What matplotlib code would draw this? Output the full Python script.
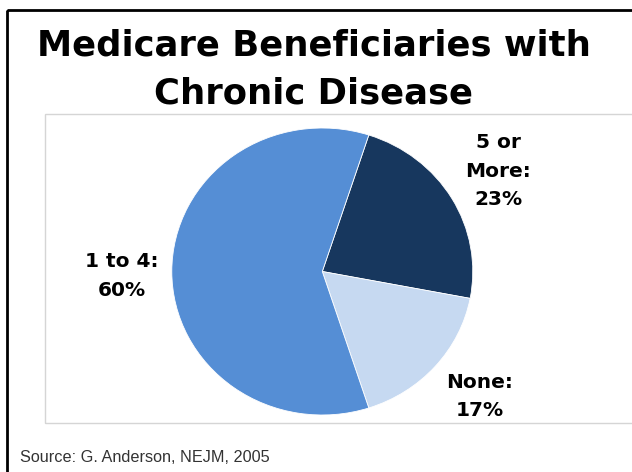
import matplotlib.pyplot as plt
from matplotlib.patches import Rectangle

# Dane z wykresu
labels = ['5 or\nMore:\n23%', 'None:\n17%', '1 to 4:\n60%']
values = [23, 17, 60]
colors = ['#17375E', '#C6D9F1', '#558ED5']
title_lines = ['Medicare Beneficiaries with', 'Chronic Disease']
source = 'Source: G. Anderson, NEJM, 2005'

W, H = 632, 472
fig = plt.figure(figsize=(W / 100, H / 100), dpi=100)


def px(x, y):
    # piksele (od góry) -> współrzędne figury
    return x / W, 1 - y / H


# Zewnętrzna ramka
fig.patches.append(Rectangle(px(7, 10), 1.2, -1.2, transform=fig.transFigure,
                             fill=False, edgecolor='black', linewidth=2))
# Ramka obszaru wykresu
fig.patches.append(Rectangle(px(45, 423), 1.2, (423 - 114) / H, transform=fig.transFigure,
                             fill=False, edgecolor='#D5D5D5', linewidth=1))

# Tytuł
for t, base in zip(title_lines, [55, 103]):
    fig.text(*px(314, base), t, ha='center', va='baseline',
             fontsize=25.5, fontweight='bold', family='DejaVu Sans')

# Wykres kołowy
cx, cy, rx, ry = 322.3, 271.5, 150.5, 143.5
l, b = px(cx - rx, cy + ry)
ax = fig.add_axes([l, b, 2 * rx / W, 2 * ry / H])
ax.pie(values, colors=colors, startangle=72, counterclock=False,
       wedgeprops=dict(edgecolor='white', linewidth=0.6))
ax.set_aspect('auto')
ax.set_xlim(-1, 1)
ax.set_ylim(-1, 1)
ax.axis('off')

label_pos = [(1.17, 0.70), (1.048, -0.87), (-1.334, -0.031)]
for (x, y), t in zip(label_pos, labels):
    ax.text(x, y, t, ha='center', va='center', fontsize=14.5, fontweight='bold',
            family='DejaVu Sans', linespacing=1.63, clip_on=False)

# Źródło
fig.text(*px(20, 462.5), source, ha='left', va='baseline',
         fontsize=11.7, color='#333333', family='Liberation Sans')

fig.savefig('out.png', dpi=100)
